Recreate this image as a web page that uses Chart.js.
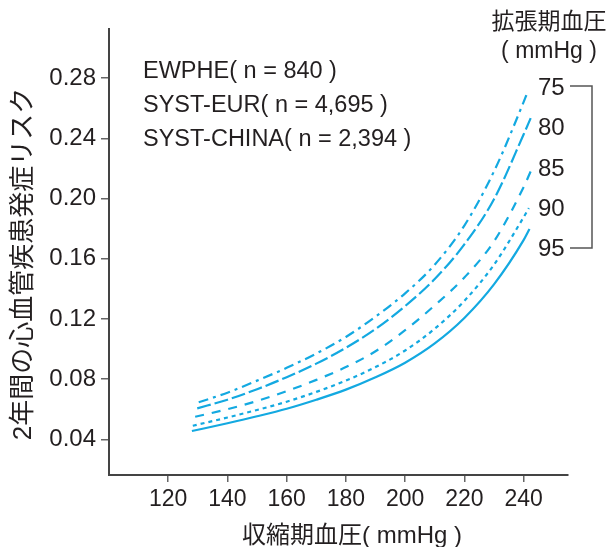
<!DOCTYPE html>
<html>
<head>
<meta charset="utf-8">
<script src="https://cdn.jsdelivr.net/npm/chart.js@4"></script>
<style>
  html, body { margin: 0; padding: 0; background: #fff; }
  #wrap { width: 611px; height: 547px; }
</style>
</head>
<body>
<div id="wrap"><canvas id="graphiqueRisque" width="611" height="547"></canvas></div>
<script>
// 収縮期血圧 (mmHg) - interior points shared by all curves
const sbp = [140, 150, 160, 170, 180, 190, 200, 210, 220, 230, 240];
// first / last SBP of each curve (75, 80, 85, 90, 95)
const sbpStart = [130.3, 129.8, 129.1, 128.3, 128];
const sbpEnd = [241, 242.4, 242.4, 241.8, 242];

// 2年間の心血管疾患発症リスク, one curve per 拡張期血圧
const risk75 = [0.0646, 0.071, 0.079, 0.0875, 0.097, 0.108, 0.1215, 0.137, 0.156, 0.182, 0.218, 0.264, 0.269];
const risk80 = [0.0606, 0.0663, 0.0733, 0.0813, 0.0903, 0.1008, 0.1133, 0.1285, 0.1465, 0.1695, 0.1995, 0.2425, 0.2534];
const risk85 = [0.055, 0.060, 0.0655, 0.072, 0.0795, 0.088, 0.0985, 0.1125, 0.129, 0.1475, 0.1715, 0.2075, 0.218];
const risk90 = [0.049, 0.0545, 0.0595, 0.065, 0.0715, 0.079, 0.088, 0.099, 0.1135, 0.132, 0.156, 0.1875, 0.1936];
const risk95 = [0.0455, 0.0507, 0.0553, 0.0603, 0.0663, 0.073, 0.0812, 0.0909, 0.1037, 0.1206, 0.1429, 0.1723, 0.1797];

const dbpLabels = ['75', '80', '85', '90', '95'];
const xTicks = [120, 140, 160, 180, 200, 220, 240];
const yTicks = [0.04, 0.08, 0.12, 0.16, 0.20, 0.24, 0.28];
const studies = ['EWPHE( n = 840 )', 'SYST-EUR( n = 4,695 )', 'SYST-CHINA( n = 2,394 )'];

const bleu = '#13a9e1';
const texte = '#231f20';
const police = '"Liberation Sans", Arial, "Noto Sans CJK JP", sans-serif';

function toPoints(vals, i) {
    const xs = [sbpStart[i]].concat(sbp, [sbpEnd[i]]);
    return xs.map((x, k) => ({ x: x, y: vals[k] }));
}

const styles = [
    [10, 5, 3, 5],
    [14, 4],
    [9, 8],
    [4, 4],
    []
];
const series = [risk75, risk80, risk85, risk90, risk95];

const datasets = series.map((vals, i) => ({
    label: dbpLabels[i],
    data: toPoints(vals, i),
    borderColor: bleu,
    borderWidth: 2.2,
    borderDash: styles[i],
    pointRadius: 0,
    cubicInterpolationMode: 'monotone',
    fill: false
}));

// textes et accolade à droite
const annotations = {
    id: 'annotations',
    afterDraw(chart) {
        const ctx = chart.ctx;
        ctx.save();
        ctx.fillStyle = texte;
        ctx.textBaseline = 'middle';

        // études
        ctx.font = '23.5px ' + police;
        ctx.textAlign = 'left';
        const ys = [72, 106, 140];
        studies.forEach((s, i) => ctx.fillText(s, 143, ys[i]));

        // titre légende
        ctx.font = '23px ' + police;
        ctx.textAlign = 'center';
        ctx.fillText('拡張期血圧', 549, 23);
        ctx.fillText('( mmHg )', 549, 52);

        // valeurs DBP
        ctx.textAlign = 'left';
        ctx.font = '24px ' + police;
        const ly = [88, 128, 169, 209, 249];
        dbpLabels.forEach((l, i) => ctx.fillText(l, 538, ly[i]));

        // accolade
        ctx.strokeStyle = '#555';
        ctx.lineWidth = 1.5;
        ctx.beginPath();
        ctx.moveTo(570, 86);
        ctx.lineTo(592, 86);
        ctx.lineTo(592, 248);
        ctx.lineTo(570, 248);
        ctx.stroke();

        // titre axe Y
        ctx.font = '26px ' + police;
        ctx.save();
        ctx.translate(24, 264);
        ctx.rotate(-Math.PI / 2);
        ctx.textAlign = 'center';
        ctx.fillText('2年間の心血管疾患発症リスク', 0, 0);
        ctx.restore();

        // titre axe X
        ctx.font = '24px ' + police;
        ctx.textAlign = 'center';
        ctx.fillText('収縮期血圧( mmHg )', 352, 536);

        ctx.restore();
    }
};

document.addEventListener("DOMContentLoaded", function () {
    const ctxRisque = document.getElementById('graphiqueRisque').getContext('2d');

    new Chart(ctxRisque, {
        type: 'line',
        data: { datasets: datasets },
        options: {
            responsive: false,
            animation: false,
            layout: { padding: { left: 0, top: 29, right: 43, bottom: 0 } },
            plugins: {
                legend: { display: false },
                tooltip: { enabled: false }
            },
            scales: {
                x: {
                    type: 'linear',
                    min: 100,
                    max: 255,
                    afterBuildTicks: (scale) => { scale.ticks = xTicks.map(v => ({ value: v })); },
                    afterFit: (scale) => { scale.height = 72; },
                    grid: { drawOnChartArea: false, drawTicks: true, tickLength: 7, color: '#666', lineWidth: 1.5 },
                    border: { color: '#444', width: 2 },
                    ticks: {
                        color: texte,
                        padding: 4,
                        maxRotation: 0,
                        font: { family: police, size: 23 },
                        callback: (v) => String(v)
                    }
                },
                y: {
                    type: 'linear',
                    min: 0.0163,
                    max: 0.3126,
                    afterBuildTicks: (scale) => { scale.ticks = yTicks.map(v => ({ value: v })); },
                    afterFit: (scale) => { scale.width = 109; },
                    grid: { drawOnChartArea: false, drawTicks: true, tickLength: 8, color: '#666', lineWidth: 1.5 },
                    border: { color: '#444', width: 2 },
                    ticks: {
                        color: texte,
                        padding: 5,
                        font: { family: police, size: 24 },
                        callback: (v) => v.toFixed(2)
                    }
                }
            }
        },
        plugins: [annotations]
    });
});
</script>
</body>
</html>
